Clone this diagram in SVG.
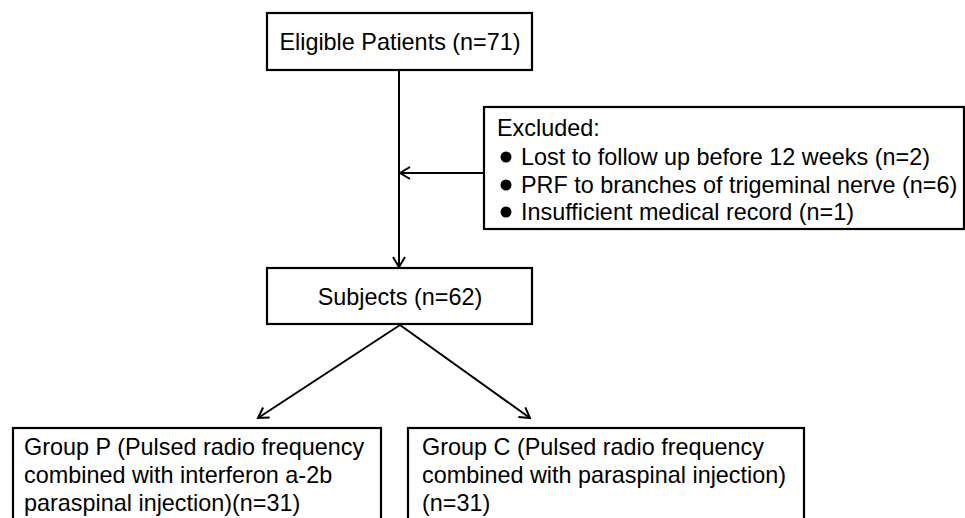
<svg xmlns="http://www.w3.org/2000/svg" width="965" height="518" viewBox="0 0 965 518">
<style>
.box{fill:#fff;stroke:#000;stroke-width:2.2}
.t{font-family:"Liberation Sans",Arial,sans-serif;font-size:23.4px;fill:#000}
.c{text-anchor:middle}
.ln{fill:none;stroke:#000;stroke-width:2}
</style>
<defs>
<marker id="arr" markerUnits="userSpaceOnUse" markerWidth="16" markerHeight="16" viewBox="-12 -8 14 16" refX="0" refY="0" orient="auto">
<path d="M-10,-6 L0,0 L-10,6" fill="none" stroke="#000" stroke-width="2"/>
</marker>
</defs>
<rect width="965" height="518" fill="#fff"/>
<g id="connectors">
<line class="ln" x1="399" y1="70" x2="399" y2="267" marker-end="url(#arr)"/>
<line class="ln" x1="484" y1="173" x2="400" y2="173" marker-end="url(#arr)"/>
<line class="ln" x1="400" y1="325" x2="258" y2="418" marker-end="url(#arr)"/>
<line class="ln" x1="400" y1="325" x2="530" y2="418" marker-end="url(#arr)"/>
</g>
<g id="eligible">
<rect class="box" x="267" y="13" width="265" height="57"/>
<text class="t c" x="400" y="50">Eligible Patients (n=71)</text>
</g>
<g id="excluded">
<rect class="box" x="484" y="107" width="480" height="122"/>
<text class="t" x="497" y="136">Excluded:</text>
<circle cx="506" cy="157" r="5.5" fill="#000"/>
<text class="t" x="521" y="165">Lost to follow up before 12 weeks (n=2)</text>
<circle cx="506" cy="185" r="5.5" fill="#000"/>
<text class="t" x="521" y="193">PRF to branches of trigeminal nerve (n=6)</text>
<circle cx="506" cy="212" r="5.5" fill="#000"/>
<text class="t" x="521" y="220">Insufficient medical record (n=1)</text>
</g>
<g id="subjects">
<rect class="box" x="267" y="268" width="265" height="56"/>
<text class="t c" x="400" y="305">Subjects (n=62)</text>
</g>
<g id="groupP">
<rect class="box" x="13" y="428" width="368" height="110"/>
<text class="t" x="24" y="455">Group P (Pulsed radio frequency</text>
<text class="t" x="24" y="483">combined with interferon a-2b</text>
<text class="t" x="24" y="511">paraspinal injection)(n=31)</text>
</g>
<g id="groupC">
<rect class="box" x="408" y="428" width="396" height="110"/>
<text class="t" x="422" y="455">Group C (Pulsed radio frequency</text>
<text class="t" x="422" y="483">combined with paraspinal injection)</text>
<text class="t" x="422" y="511">(n=31)</text>
</g>
</svg>
